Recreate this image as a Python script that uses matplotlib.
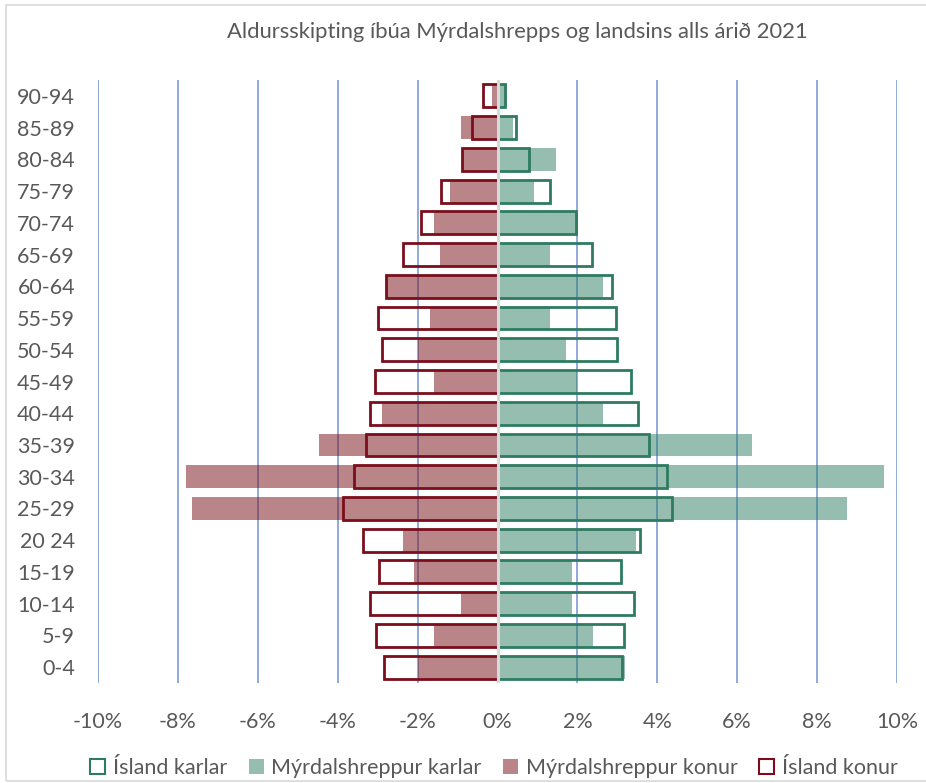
import matplotlib
matplotlib.use("Agg")
import matplotlib.pyplot as plt
from matplotlib.patches import Patch, Rectangle
from matplotlib.ticker import FuncFormatter
import numpy as np

plt.rcParams['font.family'] = ['Lato', 'DejaVu Sans']

categories = ['0-4', '5-9', '10-14', '15-19', '20 24', '25-29', '30-34', '35-39', '40-44',
              '45-49', '50-54', '55-59', '60-64', '65-69', '70-74', '75-79', '80-84', '85-89', '90-94']
# percentages of population (positive values; women drawn to the left)
island_karlar = [3.12, 3.17, 3.42, 3.10, 3.57, 4.37, 4.25, 3.79, 3.52, 3.33,
                 3.00, 2.97, 2.86, 2.36, 1.96, 1.31, 0.80, 0.47, 0.19]
myrdal_karlar = [3.18, 2.39, 1.86, 1.86, 3.47, 8.74, 9.67, 6.36, 2.65, 2.00,
                 1.71, 1.32, 2.64, 1.32, 1.96, 0.92, 1.46, 0.40, 0.25]
myrdal_konur = [1.98, 1.58, 0.92, 2.10, 2.37, 7.64, 7.79, 4.48, 2.90, 1.58,
                1.98, 1.70, 2.78, 1.45, 1.58, 1.18, 0.90, 0.92, 0.13]
island_konur = [2.85, 3.03, 3.20, 2.97, 3.37, 3.86, 3.58, 3.30, 3.19, 3.07,
                2.89, 2.98, 2.79, 2.37, 1.91, 1.41, 0.90, 0.64, 0.36]
x_ticks = [-10, -8, -6, -4, -2, 0, 2, 4, 6, 8, 10]
title = "Aldursskipting íbúa Mýrdalshrepps og landsins alls árið 2021"
legend_labels = ['Ísland karlar', 'Mýrdalshreppur karlar', 'Mýrdalshreppur konur', 'Ísland konur']

W, H = 926, 783
fig = plt.figure(figsize=(W / 100, H / 100), dpi=100)
ax = fig.add_axes([98 / W, 1 - 683 / H, (897 - 98) / W, (683 - 80) / H])

green_dark = '#2E7B60'
red_dark = '#7A0E1C'
green_fill = '#2D7F63'
red_fill = '#750D15'
grid_col = '#8FAADC'
text_col = '#595959'

y = np.arange(len(categories))
h = 0.72

# gridlines
for xt in x_ticks:
    if xt != 0:
        ax.axvline(xt, color=grid_col, lw=1.4, zorder=1)

ax.barh(y, myrdal_karlar, height=h, color=green_fill, alpha=0.5, lw=0, zorder=2)
ax.barh(y, [-v for v in myrdal_konur], height=h, color=red_fill, alpha=0.5, lw=0, zorder=2)
ax.barh(y, island_karlar, height=h, facecolor='none', edgecolor=green_dark, lw=2.0, zorder=3)
ax.barh(y, [-v for v in island_konur], height=h, facecolor='none', edgecolor=red_dark, lw=2.0, zorder=3)

ax.axvline(0, color='#D9D9D9', lw=2.2, zorder=4)

ax.set_xlim(-10, 10)
ax.set_ylim(-0.5, len(categories) - 0.5)
ax.set_xticks(x_ticks)
ax.xaxis.set_major_formatter(FuncFormatter(lambda v, p: f"{int(round(v))}%"))
ax.set_yticks(y)
ax.set_yticklabels(categories)
ax.tick_params(axis='both', length=0, labelsize=15.5, colors=text_col)
ax.tick_params(axis='x', pad=21)
ax.tick_params(axis='y', pad=16.5)
for s in ax.spines.values():
    s.set_visible(False)

fig.text(517 / W, 1 - 32 / H, title, ha='center', va='center', fontsize=15.8, color=text_col)

handles = [
    Patch(facecolor='white', edgecolor=green_dark, lw=1.5),
    Patch(facecolor=green_fill, alpha=0.5, lw=0),
    Patch(facecolor=red_fill, alpha=0.5, lw=0),
    Patch(facecolor='white', edgecolor=red_dark, lw=1.5),
]
leg = fig.legend(handles, legend_labels, loc='center', bbox_to_anchor=(494 / W, 1 - 768 / H),
                 ncol=4, frameon=False, fontsize=15.5, handlelength=0.7, handleheight=0.7,
                 handletextpad=0.35, columnspacing=1.0, labelcolor=text_col)

# outer chart border
fig.patches.append(Rectangle((6 / W, 2 / H), 2.0, 1 - 7 / H, transform=fig.transFigure,
                             facecolor='none', edgecolor='#D9D9D9', lw=1.2))

fig.savefig('out.png', dpi=100)
